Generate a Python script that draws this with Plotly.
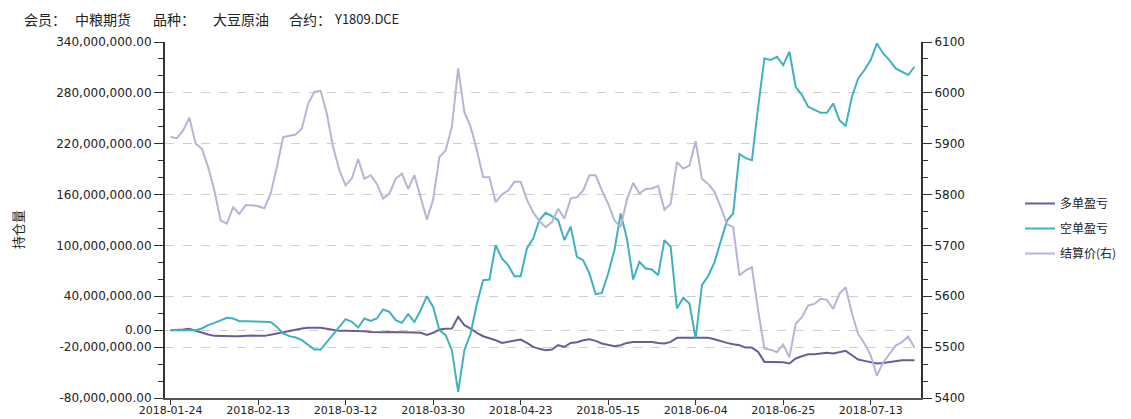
import pandas as pd
import plotly.graph_objects as go

# ---------------- data ----------------
holidays = ["2018-02-15", "2018-02-16", "2018-02-19", "2018-02-20", "2018-02-21",
            "2018-04-05", "2018-04-06", "2018-04-30", "2018-05-01", "2018-06-18"]
dates = [d.strftime("%Y-%m-%d") for d in pd.bdate_range("2018-01-24", "2018-07-24")
         if d.strftime("%Y-%m-%d") not in holidays]

tick_dates = ["2018-01-24", "2018-02-13", "2018-03-12", "2018-03-30", "2018-04-23",
              "2018-05-15", "2018-06-04", "2018-06-25", "2018-07-13"]

# 多单盈亏 (millions)
long_pnl_m = [0, 0, 0.8, 1.6, -0.8, -3.1, -5.1, -6.7, -7.1, -7.1,
              -7.1, -7.1, -6.3, -6.3, -6.7, -6.7, -5.5, -3.9, -2.4, -0.8,
              0.4, 2.0, 2.8, 3.1, 2.8, 1.6, 0, -0.8, -0.8, -0.8,
              -0.8, -1.2, -2.0, -2.4, -2.4, -2.0, -2.0, -2.4, -2.8, -2.8,
              -3.1, -5.5, -3.1, 0.8, 1.6, 2.0, 15.7, 5.9, 2.0, -3.1,
              -7.1, -9.0, -11.8, -15.0, -13.8, -12.6, -11.0, -15.0, -19.7, -22.0,
              -23.6, -22.8, -17.7, -19.7, -15.0, -14.2, -11.8, -10.6, -12.6, -15.7,
              -17.7, -18.9, -17.7, -15.0, -13.8, -13.8, -13.8, -13.8, -15.0, -15.7,
              -13.8, -9.0, -9.0, -9.0, -8.7, -8.7, -9.0, -10.6, -13.0, -15.0,
              -16.5, -17.7, -20.5, -20.5, -25.6, -37.4, -37.4, -37.8, -37.8, -39.3,
              -33.4, -30.7, -28.3, -28.3, -27.5, -26.7, -27.5, -25.6, -24.4, -29.5,
              -34.6, -36.2, -37.4, -39.3, -38.6, -37.4, -36.2, -35.4, -35.4, -35.4]

# 空单盈亏 (millions)
short_pnl_m = [0, 0, 0, 0, 0, 2.0, 6.0, 8.7, 11.8, 14.6,
               13.8, 10.6, 10.6, 10.6, 10.6, 10.6, 9.8, 3.9, -3.9, -7.0,
               -8.7, -11.8, -17.7, -22.8, -22.8, -13.8, -3.9, 4.7, 13.0, 9.8,
               3.1, 13.8, 11.0, 13.8, 24.4, 21.6, 11.8, 8.7, 18.9, 9.8,
               23.6, 40.1, 27.5, 0, -5.9, -23.6, -72.8, -23.6, -3.9, 31.5,
               59.0, 59.8, 100.3, 84.6, 76.7, 63.7, 63.7, 96.4, 108.2, 130.0,
               138.5, 134.5, 129.8, 106.2, 122.0, 86.5, 82.6, 66.9, 42.5, 44.0,
               66.9, 94.4, 137.7, 108.2, 59.8, 80.6, 72.8, 71.6, 64.9, 106.2,
               98.3, 25.6, 38.2, 31.5, -9.8, 53.1, 64.0, 80.0, 104.0, 129.0,
               137.7, 208.0, 203.0, 200.6, 263.6, 320.6, 318.7, 322.6, 312.7, 328.5,
               287.2, 277.3, 263.6, 260.4, 256.5, 256.5, 267.5, 247.8, 240.8, 275.4,
               297.0, 306.9, 318.7, 338.3, 326.5, 318.7, 308.8, 304.9, 301.0, 310.8]

# 结算价(右)
price = [5913, 5911, 5926, 5951, 5900, 5890, 5854, 5808, 5749, 5743,
         5775, 5762, 5779, 5779, 5777, 5773, 5802, 5854, 5913, 5915,
         5918, 5930, 5979, 6002, 6004, 5959, 5893, 5848, 5818, 5832,
         5870, 5831, 5838, 5821, 5792, 5802, 5831, 5841, 5811, 5838,
         5796, 5751, 5790, 5874, 5887, 5933, 6048, 5962, 5933, 5887,
         5834, 5834, 5785, 5800, 5808, 5825, 5825, 5790, 5765, 5748,
         5736, 5746, 5772, 5753, 5792, 5795, 5808, 5838, 5838, 5808,
         5782, 5749, 5736, 5790, 5823, 5802, 5811, 5812, 5817, 5770,
         5782, 5864, 5851, 5857, 5905, 5831, 5821, 5806, 5776, 5742,
         5736, 5641, 5651, 5657, 5572, 5497, 5495, 5490, 5505, 5480,
         5546, 5559, 5582, 5585, 5595, 5593, 5575, 5605, 5618, 5566,
         5526, 5507, 5484, 5444, 5470, 5487, 5503, 5510, 5521, 5499]

left_ticks_m = [-80, -20, 0, 40, 100, 160, 220, 280, 340]
right_ticks = [5400, 5500, 5600, 5700, 5800, 5900, 6000, 6100]

# ---------------- figure ----------------
# the page body has an 8px margin, so the figure starts at (8, 8) in the window
OFF = 8
W, H = 1131 - OFF, 419 - OFF
L, T = 165 - OFF, 42 - OFF
R = W - (921 - OFF)
B = H - (398 - OFF)
pw, ph = W - L - R, H - T - B

def px_x(p):
    return (p - OFF - L) / pw

def px_y(p):
    return (H - B - (p - OFF)) / ph

fig = go.Figure()
fig.add_trace(go.Scatter(x=dates, y=[v * 1e6 for v in long_pnl_m], name="多单盈亏",
                         mode="lines", line=dict(color="#6b5c98", width=2),
                         legendgroup="a"))
fig.add_trace(go.Scatter(x=dates, y=[v * 1e6 for v in short_pnl_m], name="空单盈亏",
                         mode="lines", line=dict(color="#3fb1bf", width=2),
                         legendgroup="b"))
fig.add_trace(go.Scatter(x=dates, y=price, name="结算价(右)", yaxis="y2",
                         mode="lines", line=dict(color="#b3b6d6", width=2),
                         legendgroup="c"))

tickfont = dict(family="DejaVu Sans", size=12, color="#222")
xtickfont = dict(family="DejaVu Sans", size=11, color="#222")
left_minor = [v * 1e6 for v in range(-80, 341, 20) if v not in (-80, -20, 40, 100, 160, 220, 280, 340)]
right_minor = [5400 + k * 100 / 3 for k in range(22) if k % 3 != 0]

fig.update_layout(
    width=W, height=H,
    margin=dict(l=L, r=R, t=T, b=B, autoexpand=False),
    paper_bgcolor="white", plot_bgcolor="white",
    showlegend=True,
    legend=dict(x=px_x(1020), y=px_y(189), xanchor="left", yanchor="top",
                font=dict(family="Noto Sans CJK SC", size=12, color="#222"),
                tracegroupgap=6, bgcolor="rgba(0,0,0,0)"),
    xaxis=dict(type="category", range=[-0.9, 120.05], automargin=False,
               tickmode="array", tickvals=tick_dates, ticktext=tick_dates,
               ticks="outside", ticklen=5, tickcolor="#333", ticklabelstandoff=-4,
               showline=True, linecolor="#555", linewidth=2,
               showgrid=False, zeroline=False, tickfont=xtickfont),
    yaxis=dict(range=[-80e6, 340e6], automargin=False,
               tickmode="array", tickvals=[v * 1e6 for v in left_ticks_m],
               ticktext=[f"{v * 1e6:,.2f}" for v in left_ticks_m],
               ticks="outside", ticklen=9, tickcolor="#333",
               minor=dict(tickmode="array", tickvals=left_minor, ticks="outside",
                          ticklen=5, tickcolor="#333", showgrid=False),
               showline=True, linecolor="#333", linewidth=2,
               showgrid=True, gridcolor="#cfcfcf", griddash="dash", gridwidth=1,
               zeroline=False, tickfont=tickfont),
    yaxis2=dict(range=[5400, 6100], overlaying="y", side="right", automargin=False,
                tickmode="array", tickvals=right_ticks,
                ticks="outside", ticklen=9, tickcolor="#333",
                minor=dict(tickmode="array", tickvals=right_minor, ticks="outside",
                           ticklen=5, tickcolor="#333", showgrid=False),
                showline=True, linecolor="#333", linewidth=2,
                showgrid=False, zeroline=False, tickfont=tickfont),
)

title_font = dict(family="Noto Sans CJK SC", size=14, color="#222")
for txt, xp in [("会员：", 22), ("中粮期货", 73), ("品种：", 151), ("大豆原油", 211), ("合约：", 287)]:
    fig.add_annotation(text=txt, xref="paper", yref="paper", x=px_x(xp), y=px_y(19),
                       xanchor="left", yanchor="middle", showarrow=False, font=title_font)
fig.add_annotation(text="Y1809.DCE", xref="paper", yref="paper", x=px_x(332), y=px_y(19),
                   xanchor="left", yanchor="middle", showarrow=False,
                   font=dict(family="Noto Sans CJK SC", size=13, color="#222"))

fig.add_annotation(text="持仓量", xref="paper", yref="paper", x=px_x(18), y=px_y(230),
                   xanchor="center", yanchor="middle", textangle=-90, showarrow=False,
                   font=dict(family="Noto Sans CJK SC", size=13, color="#222"))

fig.write_html("out.html")
